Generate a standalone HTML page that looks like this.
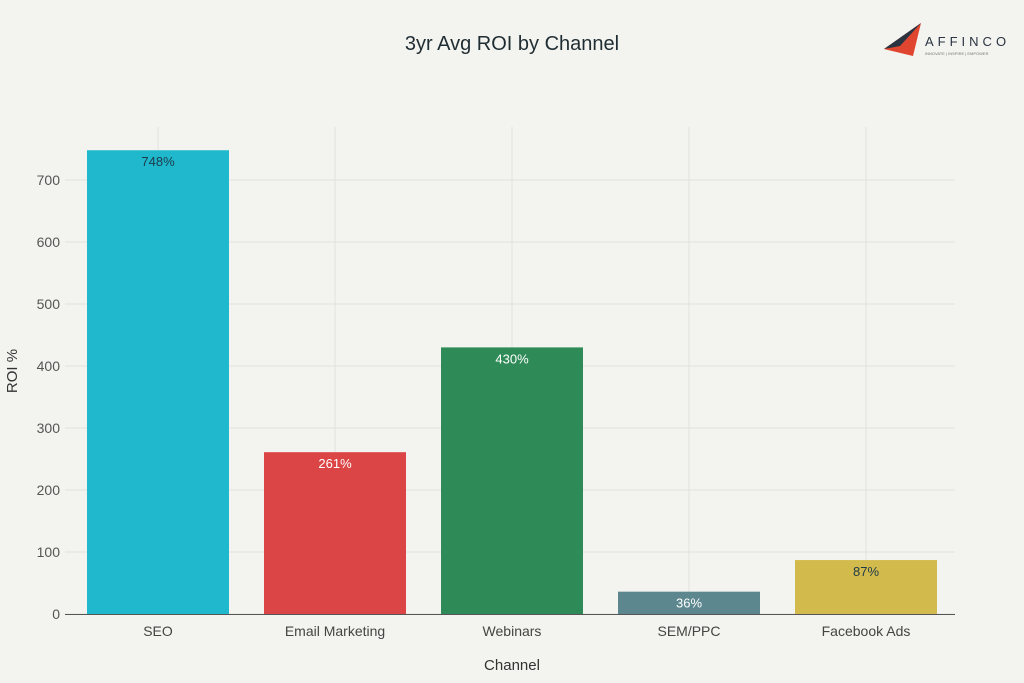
<!DOCTYPE html>
<html><head><meta charset="utf-8"><style>
body{margin:0;background:#f3f3ef;font-family:"Liberation Sans",sans-serif;}
svg{display:block}
</style></head><body>
<svg id="c" width="1024" height="683">
<rect width="1024" height="683" fill="#f3f3ef"/>
<text x="512" y="50" text-anchor="middle" font-size="20" fill="#1f2d33">3yr Avg ROI by Channel</text>
<g>
<polygon points="884,49 921,23 913,56" fill="#e0452f"/>
<polygon points="884,49 921,23 900,46" fill="#2a3441"/>
<text x="925" y="46" font-size="13" letter-spacing="4" fill="#2a3441">AFFINCO</text>
<text x="925" y="55" font-size="4" fill="#777">INNOVATE | INSPIRE | EMPOWER</text>
</g>
<g id="grid"></g><g id="bars"></g><g id="axes"></g>
<text x="512" y="670" text-anchor="middle" font-size="15" fill="#333">Channel</text>
<text transform="translate(17,371) rotate(-90)" text-anchor="middle" font-size="15" fill="#333">ROI %</text>
</svg>
<script>
const categories=["SEO","Email Marketing","Webinars","SEM/PPC","Facebook Ads"];
const values=[748,261,430,36,87];
const labels=["748%","261%","430%","36%","87%"];
const colors=["#1fb8cd","#db4545","#2e8b57","#5d878f","#d2ba4c"];
const yTicks=[0,100,200,300,400,500,600,700];
const NS="http://www.w3.org/2000/svg";
const y=v=>614-v*0.62;
const x=i=>158+i*177;
function mk(t,a,p){const e=document.createElementNS(NS,t);for(const k in a)e.setAttribute(k,a[k]);p.appendChild(e);return e;}
const g=document.getElementById('grid'),b=document.getElementById('bars'),ax=document.getElementById('axes');
yTicks.forEach(t=>{
const l=mk('line',{x1:65,x2:955,y1:y(t),y2:y(t),stroke:'#e1e1dc','stroke-width':1},g);


const tx=mk('text',{x:60,y:y(t)+5,'text-anchor':'end','font-size':14,fill:'#555'},ax);
tx.textContent=t;


});
categories.forEach((c,i)=>{
const l=mk('line',{x1:x(i),x2:x(i),y1:127,y2:614,stroke:'#e1e1dc'},g);


const r=mk('rect',{x:x(i)-71,y:y(values[i]),width:142,height:614-y(values[i]),fill:colors[i]},b);


const dark=(i==0||i==4);
const vt=mk('text',{x:x(i),y:y(values[i])+16,'text-anchor':'middle','font-size':13,fill:dark?'#1f3a4a':'#fff'},b);
vt.textContent=labels[i];


const ct=mk('text',{x:x(i),y:636,'text-anchor':'middle','font-size':14,fill:'#444'},ax);
ct.textContent=c;


});
const base=mk('line',{x1:65,x2:955,y1:614.5,y2:614.5,stroke:'#555'},ax);


</script>
</body></html>
